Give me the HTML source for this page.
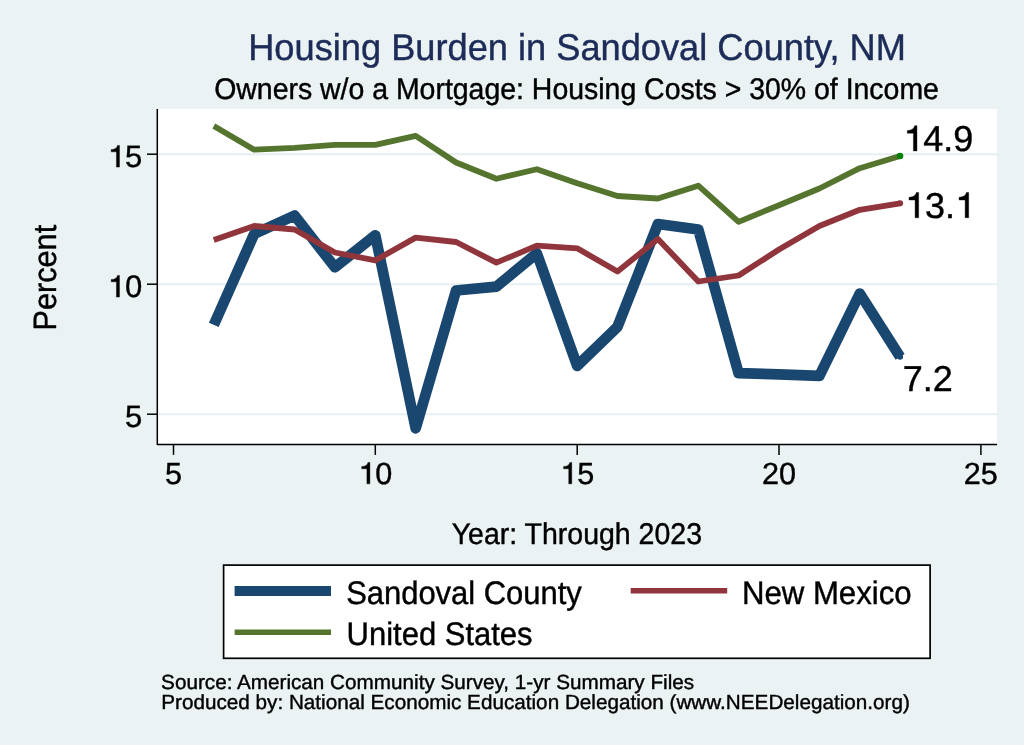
<!DOCTYPE html>
<html><head><meta charset="utf-8"><style>
html,body{margin:0;padding:0;background:#eaf2f3;width:1024px;height:745px;overflow:hidden}
svg{display:block;text-rendering:geometricPrecision;will-change:transform}
</style></head><body>
<svg width="1024" height="745" viewBox="0 0 1024 745">
<rect x="0" y="0" width="1024" height="745" fill="#eaf2f3"/>
<rect x="157" y="109" width="840" height="335.5" fill="#ffffff"/>
<g stroke="#e6eff1" stroke-width="2">
<line x1="158" y1="154.2" x2="997" y2="154.2"/>
<line x1="158" y1="284.2" x2="997" y2="284.2"/>
<line x1="158" y1="414.2" x2="997" y2="414.2"/>
</g>
<g fill="none" stroke-linejoin="round">
<polyline points="213.8,324.8 254.2,234.0 294.6,215.5 334.9,267.3 375.3,235.3 415.7,428.3 456.1,290.5 496.4,286.6 536.8,253.3 577.2,365.9 617.5,326.8 657.9,224.0 698.3,229.5 738.6,373.2 779.0,374.4 819.4,375.9 859.8,293.5 900.1,356.8" stroke="#1a476f" stroke-width="10.7" stroke-linecap="butt"/>
<polyline points="213.8,125.9 254.2,149.7 294.6,147.8 334.9,144.8 375.3,144.8 415.7,135.8 456.1,162.5 496.4,178.8 536.8,169.2 577.2,183.2 617.5,196.0 657.9,198.5 698.3,185.7 738.6,221.9 779.0,205.2 819.4,188.5 859.8,168.2 900.1,156.0" stroke="#55752f" stroke-width="5.8" stroke-linecap="butt"/>
<polyline points="213.8,240.0 254.2,226.0 294.6,229.5 334.9,252.5 375.3,260.4 415.7,237.6 456.1,242.0 496.4,262.7 536.8,245.7 577.2,248.3 617.5,271.5 657.9,239.0 698.3,281.5 738.6,275.5 779.0,249.5 819.4,226.0 859.8,209.8 900.1,203.3" stroke="#90353b" stroke-width="5.8" stroke-linecap="butt"/>
</g>
<circle cx="900.1" cy="356.8" r="3" fill="#1a476f"/>
<circle cx="900.1" cy="203.3" r="3" fill="#90353b"/>
<circle cx="900.1" cy="156.0" r="3.2" fill="#007f00"/>
<g stroke="#000" stroke-width="1.5" fill="none">
<polyline points="157.3,109 157.3,444.5 997,444.5" stroke-linejoin="round"/>
<line x1="147" y1="414.2" x2="157.3" y2="414.2"/>
<line x1="147" y1="284.2" x2="157.3" y2="284.2"/>
<line x1="147" y1="154.2" x2="157.3" y2="154.2"/>
<line x1="173.5" y1="444.5" x2="173.5" y2="454.9"/>
<line x1="375.3" y1="444.5" x2="375.3" y2="454.9"/>
<line x1="577.2" y1="444.5" x2="577.2" y2="454.9"/>
<line x1="779.0" y1="444.5" x2="779.0" y2="454.9"/>
<line x1="980.9" y1="444.5" x2="980.9" y2="454.9"/>
</g>
<g font-family="Liberation Sans, sans-serif" fill="#000">
<text x="124.96" y="427.10" font-size="31.0" fill="#000" stroke="#000" stroke-width="0.4">5</text>
<path transform="translate(107.72,297.10) scale(0.03100,-0.03100)" d="M281 0H379V700H315C300 630 250 575 112 566V492H281Z" fill="#000" stroke="#000" stroke-width="12.90"/><text x="124.96" y="297.10" font-size="31.0" fill="#000" stroke="#000" stroke-width="0.4">0</text>
<path transform="translate(107.72,167.10) scale(0.03100,-0.03100)" d="M281 0H379V700H315C300 630 250 575 112 566V492H281Z" fill="#000" stroke="#000" stroke-width="12.90"/><text x="124.96" y="167.10" font-size="31.0" fill="#000" stroke="#000" stroke-width="0.4">5</text>
<text x="164.96" y="483.85" font-size="30.6" fill="#000" stroke="#000" stroke-width="0.4">5</text>
<path transform="translate(358.30,483.85) scale(0.03060,-0.03060)" d="M281 0H379V700H315C300 630 250 575 112 566V492H281Z" fill="#000" stroke="#000" stroke-width="13.07"/><text x="375.32" y="483.85" font-size="30.6" fill="#000" stroke="#000" stroke-width="0.4">0</text>
<path transform="translate(560.15,483.85) scale(0.03060,-0.03060)" d="M281 0H379V700H315C300 630 250 575 112 566V492H281Z" fill="#000" stroke="#000" stroke-width="13.07"/><text x="577.17" y="483.85" font-size="30.6" fill="#000" stroke="#000" stroke-width="0.4">5</text>
<text x="762.00" y="483.85" font-size="30.6" fill="#000" stroke="#000" stroke-width="0.4">20</text>
<text x="963.85" y="483.85" font-size="30.6" fill="#000" stroke="#000" stroke-width="0.4">25</text>
<text transform="translate(248.20,59.85) scale(1,1.0268)" font-size="36.228" fill="#1c2b57" stroke="#1c2b57" stroke-width="0.4">Housing Burden in Sandoval County, NM</text>
<text transform="translate(214.18,98.80) scale(1,1.0472)" font-size="28.456" fill="#000" stroke="#000" stroke-width="0.4">Owners w/o a Mortgage: Housing Costs &gt; 30% of Income</text>
<text transform="translate(451.64,543.90) scale(1,1.0519)" font-size="28.519" fill="#000" stroke="#000" stroke-width="0.4">Year: Through 2023</text>
<text transform="translate(55.8,330.55) rotate(-90) scale(1,1.0526)" font-size="30.685" stroke="#000" stroke-width="0.4">Percent</text>
<text transform="translate(161.09,688.80) scale(1,0.9900)" font-size="20.708" fill="#000" stroke="#000" stroke-width="0.4">Source: American Community Survey, 1-yr Summary Files</text>
<text transform="translate(161.24,708.70) scale(1,0.9908)" font-size="20.691" fill="#000" stroke="#000" stroke-width="0.4">Produced by: National Economic Education Delegation (www.NEEDelegation.org)</text>
<path transform="translate(903.30,150.90) scale(0.03600,-0.03600)" d="M281 0H379V700H315C300 630 250 575 112 566V492H281Z" fill="#000" stroke="#000" stroke-width="11.11"/><text x="923.32" y="150.90" font-size="36.0" fill="#000" stroke="#000" stroke-width="0.4">4.9</text>
<path transform="translate(905.00,217.70) scale(0.03600,-0.03600)" d="M281 0H379V700H315C300 630 250 575 112 566V492H281Z" fill="#000" stroke="#000" stroke-width="11.11"/><text x="925.02" y="217.70" font-size="36.0" fill="#000" stroke="#000" stroke-width="0.4">3.</text><path transform="translate(955.04,217.70) scale(0.03600,-0.03600)" d="M281 0H379V700H315C300 630 250 575 112 566V492H281Z" fill="#000" stroke="#000" stroke-width="11.11"/>
<text x="902.80" y="391.10" font-size="36.0" fill="#000" stroke="#000" stroke-width="0.4">7.2</text>
</g>
<rect x="223.6" y="565.1" width="706.5" height="93.2" fill="#fff" stroke="#000" stroke-width="1.7"/>
<line x1="234.6" y1="591" x2="331" y2="591" stroke="#1a476f" stroke-width="10"/>
<line x1="630.7" y1="590.8" x2="727.2" y2="590.8" stroke="#90353b" stroke-width="5.5"/>
<line x1="234.6" y1="632.3" x2="331" y2="632.3" stroke="#55752f" stroke-width="5.5"/>
<g font-family="Liberation Sans, sans-serif" fill="#000">
<text transform="translate(346.15,603.90) scale(1,1.0532)" font-size="30.952" fill="#000" stroke="#000" stroke-width="0.4">Sandoval County</text>
<text transform="translate(741.91,603.90) scale(1,1.0460)" font-size="31.165" fill="#000" stroke="#000" stroke-width="0.4">New Mexico</text>
<text transform="translate(346.62,644.80) scale(1,1.0521)" font-size="30.985" fill="#000" stroke="#000" stroke-width="0.4">United States</text>
</g>
</svg>
</body></html>
